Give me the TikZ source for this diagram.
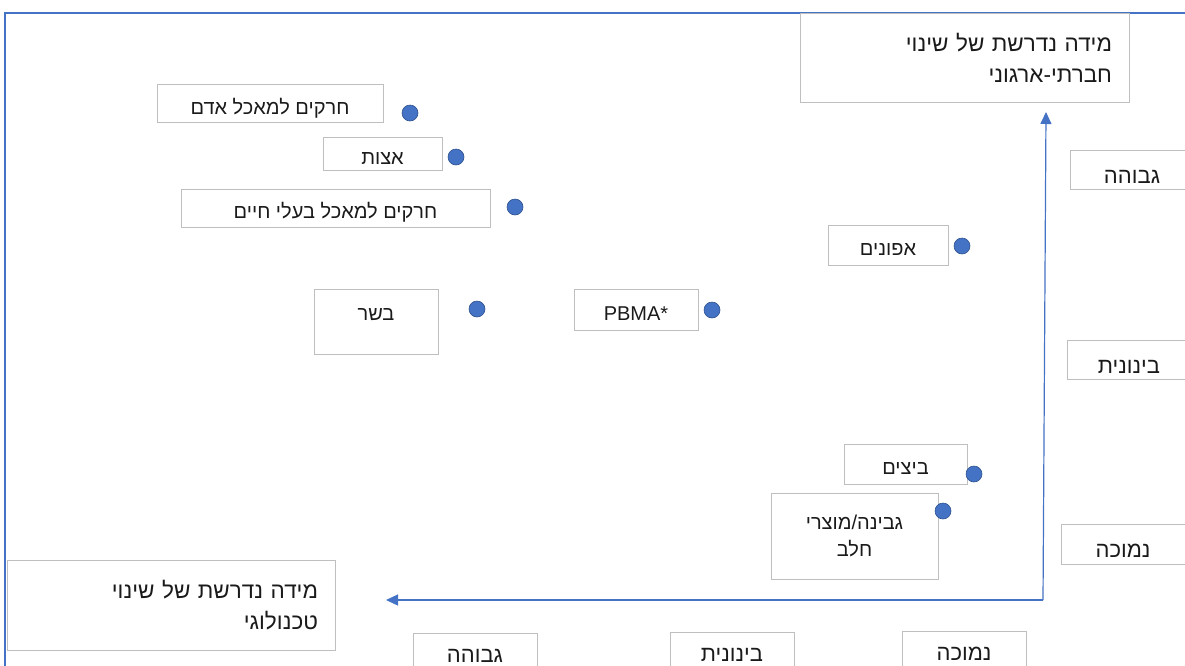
\documentclass[tikz,border=0pt]{standalone}
\usepackage{fontspec}
\setmainfont{Liberation Sans}
\newfontfamily\heb[Script=Hebrew]{Liberation Sans}
\TeXXeTstate=1
\usetikzlibrary{arrows.meta}
\definecolor{axisblue}{HTML}{4472C4}
\definecolor{dotedge}{HTML}{2F528F}
\definecolor{boxgray}{HTML}{BFBFBF}
\definecolor{txt}{HTML}{1A1A1A}
\newcommand{\R}[1]{\beginR #1\endR}
\tikzset{
  box/.style={draw=boxgray, line width=0.8pt, inner sep=0pt, text=txt, font=\heb\fontsize{20}{27}\selectfont, align=center},
  onebox/.style={box, text height=21pt, text depth=0pt},
  axlbl/.style={box, font=\heb\fontsize{22}{24}\selectfont, text height=27pt, text depth=0pt},
  bottomlbl/.style={box, font=\heb\fontsize{22}{24}\selectfont, text height=18pt, text depth=0pt},
  title/.style={draw=boxgray, line width=0.8pt, inner xsep=17pt, inner ysep=0pt, text=txt, font=\heb\fontsize{22.5}{31}\selectfont, align=right},
  dot/.style={circle, fill=axisblue, draw=dotedge, line width=0.6pt, inner sep=0pt, minimum width=15pt, minimum height=16pt},
  frame/.style={draw=axisblue, line width=1.6pt},
  axis/.style={draw=axisblue, line width=1.2pt, -{Triangle[length=12pt,width=11pt]}}
}
\begin{document}
\begin{tikzpicture}[x=1pt,y=-1pt]
\useasboundingbox (0,0) rectangle (1185,665);
\clip (0,0) rectangle (1185,665);
% outer frame
\coordinate (ftr) at (1190,13);
\coordinate (ftl) at (5,13);
\coordinate (fbl) at (5,670);
\draw[frame] (ftr) -- (ftl) -- (fbl);
% titles
\node[title, text width=295pt, minimum height=89pt] (ttop) at (964.5,57.5) {\R{מידה נדרשת של שינוי}\\\R{חברתי-ארגוני}};
\node[title, text width=294pt, minimum height=90pt] (tbot) at (171,605) {\R{מידה נדרשת של שינוי}\\\R{טכנולוגי}};
% axes
\coordinate (corner) at (1043,600);
\coordinate (vend) at (1046,112);
\coordinate (hend) at (386,600);
\draw[axis] (corner) -- (vend);
\draw[axis] (corner) -- (hend);
% axis level labels (right)
\node[axlbl, minimum width=124pt, minimum height=39pt] (rhigh) at (1132,169.5) {\R{גבוהה}};
\node[axlbl, minimum width=124pt, minimum height=39pt] (rmid) at (1129,359.5) {\R{בינונית}};
\node[axlbl, minimum width=124pt, minimum height=40pt] (rlow) at (1123,544) {\R{נמוכה}};
% axis level labels (bottom)
\node[bottomlbl, minimum width=124pt, minimum height=40pt] (bhigh) at (475,653) {\R{גבוהה}};
\node[bottomlbl, minimum width=124pt, minimum height=40pt] (bmid) at (732,652.5) {\R{בינונית}};
\node[bottomlbl, minimum width=124pt, minimum height=40pt] (blow) at (964,651) {\R{נמוכה}};
% items
\node[onebox, minimum width=226pt, minimum height=38pt] (insh) at (270,103.5) {\R{חרקים למאכל אדם}};
\node[dot] (dinsh) at (410,113) {};
\node[onebox, minimum width=119pt, minimum height=33pt] (algae) at (382.5,153.5) {\R{אצות}};
\node[dot] (dalgae) at (456,157) {};
\node[onebox, minimum width=309pt, minimum height=38pt] (insa) at (335.5,208) {\R{חרקים למאכל בעלי חיים}};
\node[dot] (dinsa) at (515,207) {};
\node[box, minimum width=124pt, text height=31pt, text depth=34pt, anchor=north] (meat) at (376,289) {\R{בשר}};
\node[dot] (dmeat) at (477,309) {};
\node[onebox, font=\fontsize{20}{22}\selectfont, minimum width=124pt, minimum height=41pt] (pbma) at (636,309.5) {PBMA*};
\node[dot] (dpbma) at (712,310) {};
\node[onebox, minimum width=120pt, minimum height=40pt] (peas) at (888,245) {\R{אפונים}};
\node[dot] (dpeas) at (962,246) {};
\node[onebox, minimum width=123pt, minimum height=40pt] (eggs) at (905.5,464) {\R{ביצים}};
\node[dot] (deggs) at (974,474) {};
\node[box, minimum width=167pt, minimum height=86pt] (dairy) at (854.5,536) {\R{גבינה/מוצרי}\\\R{חלב}};
\node[dot] (ddairy) at (943,511) {};
\end{tikzpicture}
\end{document}
